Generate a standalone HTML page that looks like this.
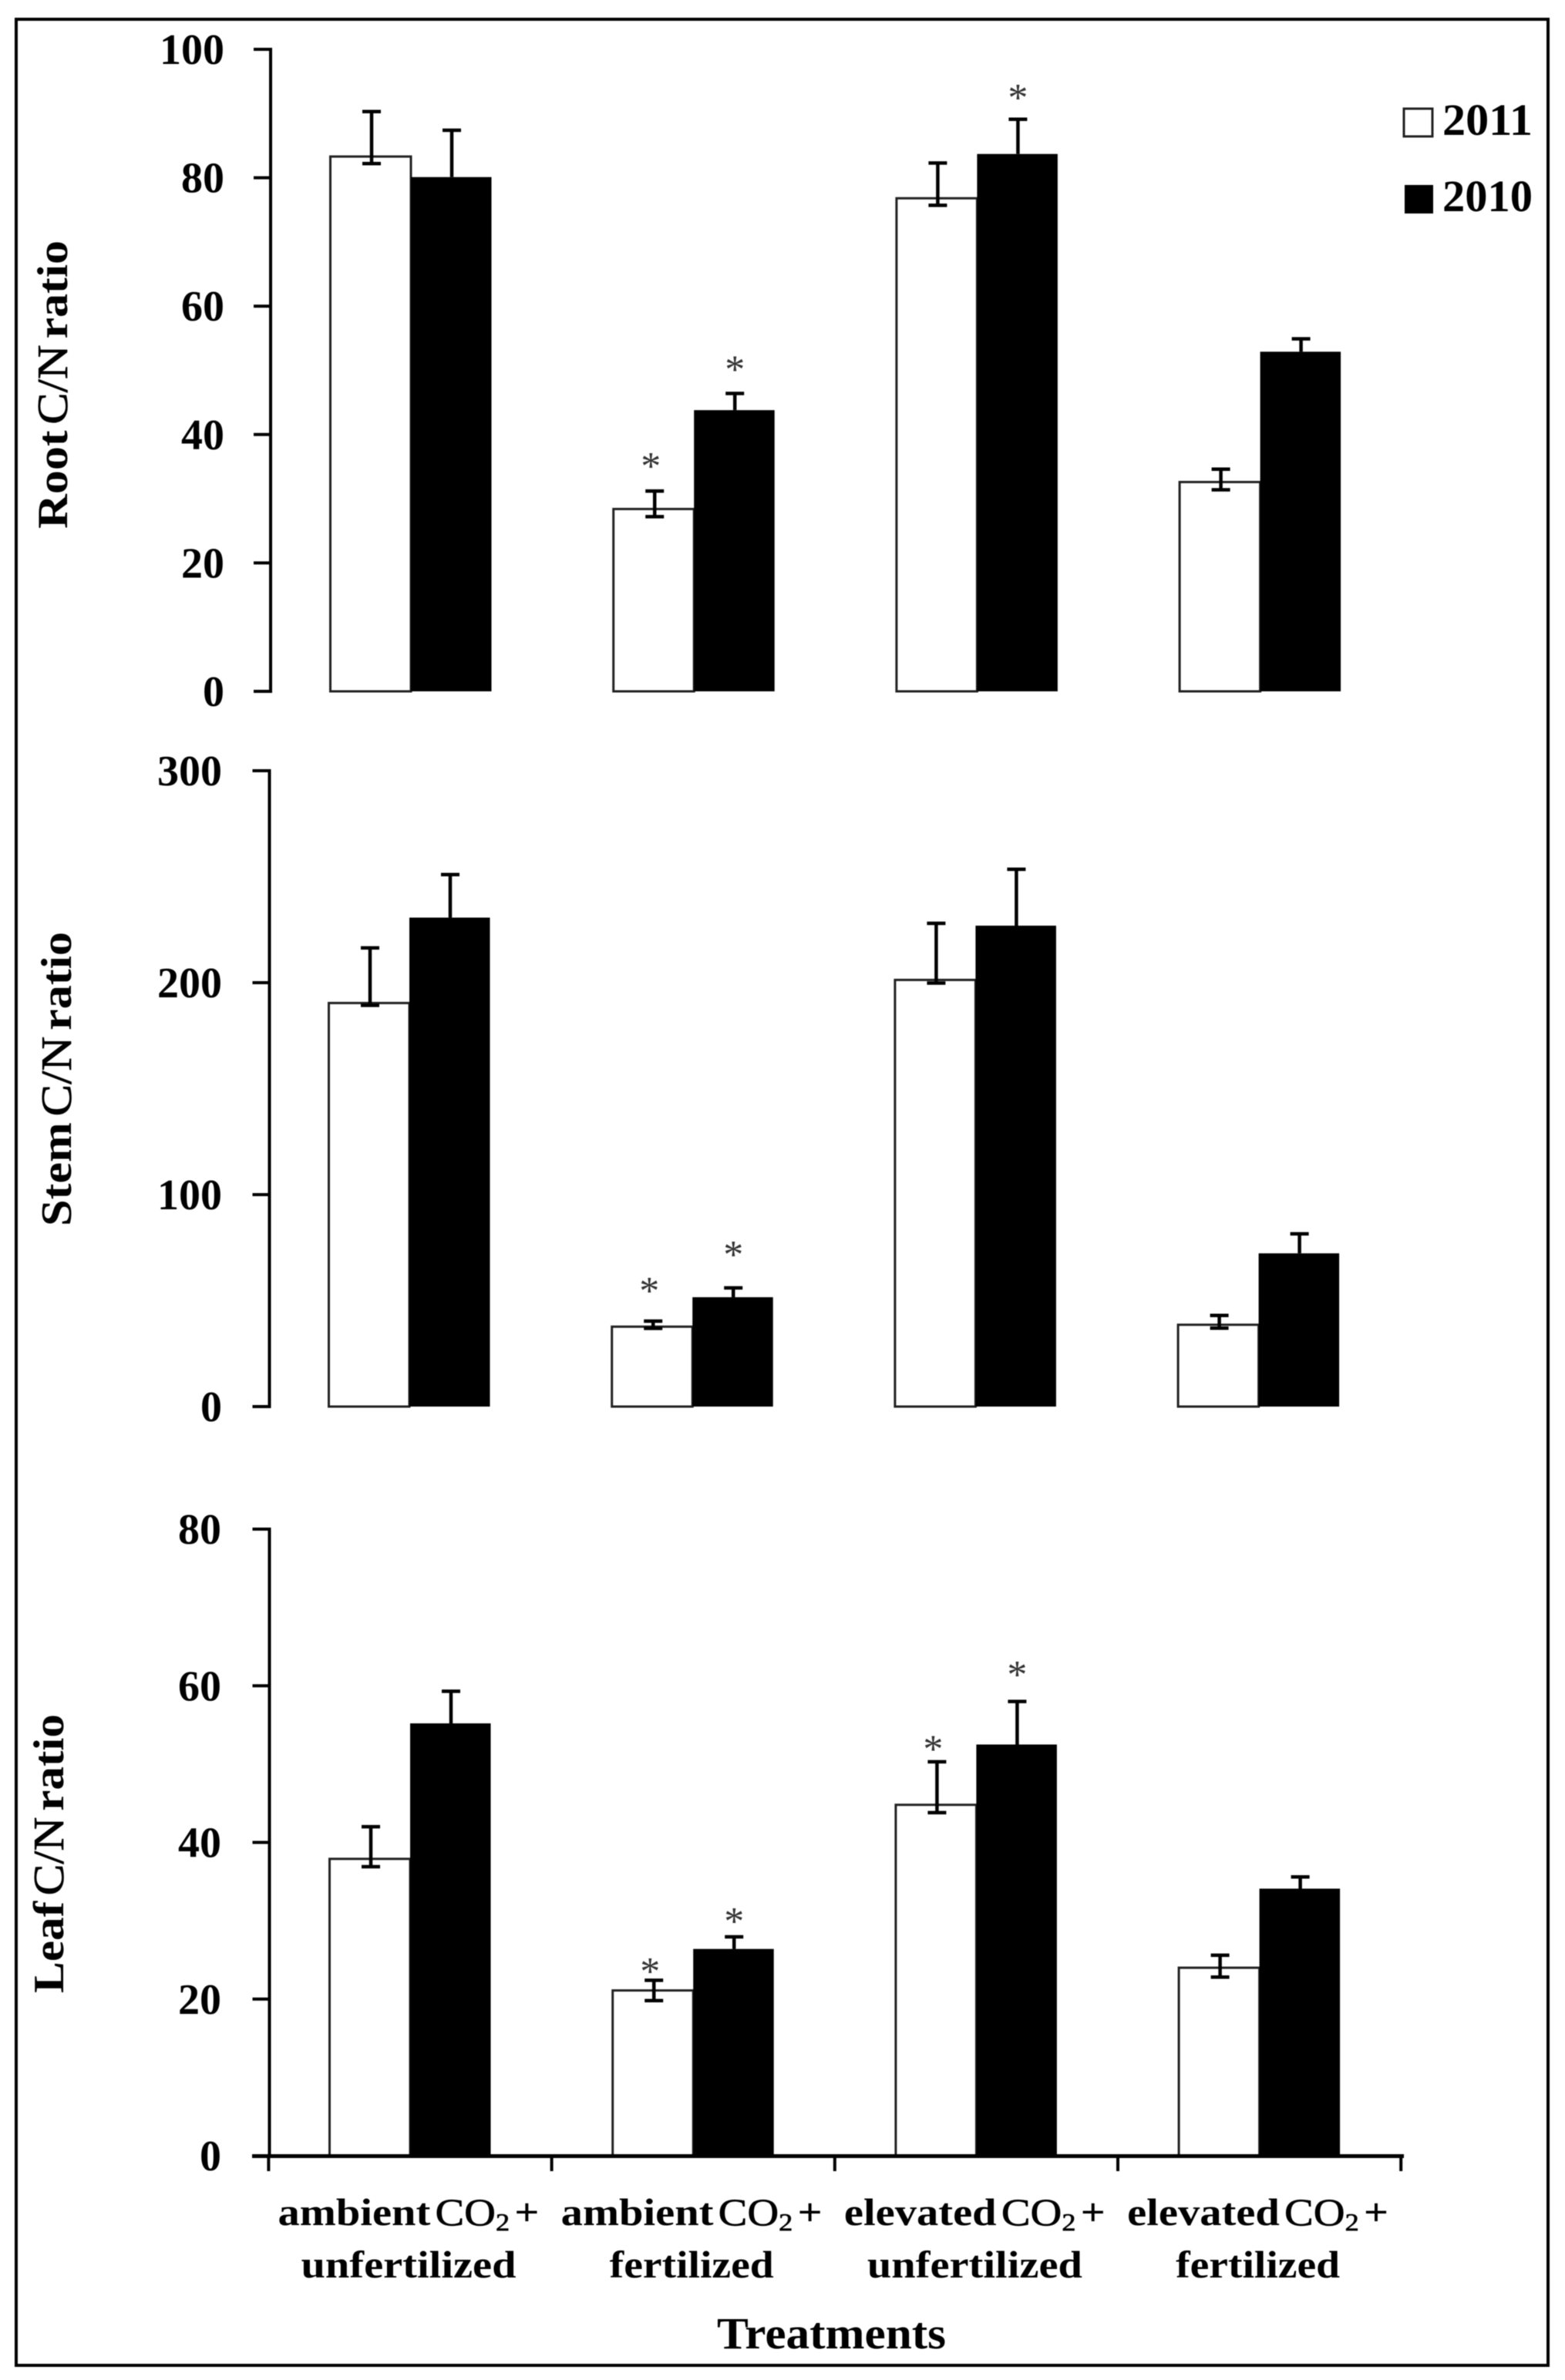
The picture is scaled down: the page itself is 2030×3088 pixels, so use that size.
<!DOCTYPE html>
<html lang="en">
<head>
<meta charset="utf-8">
<title>Root, stem and leaf C/N ratio by treatment</title>
<style>
  html, body { margin: 0; padding: 0; background: #fff; }
  body { width: 2030px; height: 3088px; overflow: hidden; }
  svg { display: block; filter: blur(0.5px); }
  text { font-family: "Liberation Serif", serif; fill: #000; }
  .bold { font-weight: bold; }
  .medium { font-weight: normal; stroke: #000; stroke-width: 0.7px; }
  .tight { word-spacing: -7px; }
</style>
</head>
<body>
<svg id="chart" xmlns="http://www.w3.org/2000/svg" width="2030" height="3088" viewBox="0 0 2030 3088">
  <rect x="0" y="0" width="2030" height="3088" fill="#ffffff"/>
  <rect x="21" y="25" width="1987" height="3044" fill="none" stroke="#000" stroke-width="4"/>

  <g id="panels"></g>
  <g id="x-axis"></g>

  <g>
    <g>
      <rect x="1821" y="141" width="37" height="36" fill="#fff" stroke="#222" stroke-width="3"/>
      <text class="bold" x="1871" y="175" font-size="58" textLength="117" lengthAdjust="spacingAndGlyphs">2011</text>
    </g>
    <g>
      <rect x="1822" y="240" width="37" height="37" fill="#000"/>
      <text class="bold" x="1871" y="274" font-size="58" textLength="117" lengthAdjust="spacingAndGlyphs">2010</text>
    </g>
  </g>

  <text class="bold tight" font-size="56" transform="translate(87 686) rotate(-90)" textLength="374" lengthAdjust="spacingAndGlyphs">Root <tspan class="medium">C/N</tspan> ratio</text>
  <text class="bold tight" font-size="56" transform="translate(92 1591) rotate(-90)" textLength="382" lengthAdjust="spacingAndGlyphs">Stem <tspan class="medium">C/N</tspan> ratio</text>
  <text class="bold tight" font-size="56" transform="translate(82 2586) rotate(-90)" textLength="362" lengthAdjust="spacingAndGlyphs">Leaf <tspan class="medium">C/N</tspan> ratio</text>
  <text class="bold" x="930" y="3047" font-size="58" textLength="297" lengthAdjust="spacingAndGlyphs">Treatments</text>
</svg>

<script>
// ---------- categories ----------
const treatmentGas = ["ambient", "ambient", "elevated", "elevated"];
const treatmentFert = ["unfertilized", "fertilized", "unfertilized", "fertilized"];

// ---------- tick labels ----------
const rootTicks = [0, 20, 40, 60, 80, 100];
const stemTicks = [0, 100, 200, 300];
const leafTicks = [0, 20, 40, 60, 80];

// ---------- root series ----------
const root2011 = [83.3, 28.4, 76.8, 32.6];
const root2011Upper = [90.3, 31.2, 82.3, 34.6];
const root2011Lower = [82.2, 27.2, 75.7, 31.4];
const root2010 = [80.1, 43.8, 83.7, 52.9];
const root2010Upper = [87.4, 46.4, 89.1, 54.9];
const rootStar2011 = [null, 4.8, null, null];
const rootStar2010 = [null, 4.7, 4.3, null];

// ---------- stem series ----------
const stem2011 = [190.4, 37.7, 201.3, 38.6];
const stem2011Upper = [216.4, 40.3, 228, 43];
const stem2011Lower = [189.3, 36.9, 199.8, 37];
const stem2010 = [230.7, 51.6, 226.9, 72.3];
const stem2010Upper = [251, 56, 253.5, 81.5];
const stemStar2011 = [null, 17.1, null, null];
const stemStar2010 = [null, 18.5, null, null];

// ---------- leaf series ----------
const leaf2011 = [37.9, 21.1, 44.8, 24];
const leaf2011Upper = [42, 22.4, 50.3, 25.6];
const leaf2011Lower = [36.9, 19.8, 43.8, 22.8];
const leaf2010 = [55.2, 26.4, 52.5, 34.1];
const leaf2010Upper = [59.3, 27.95, 58, 35.6];
const leafStar2011 = [null, 1.9, 2.4, null];
const leafStar2010 = [null, 2.75, 4.2, null];

const NS = "http://www.w3.org/2000/svg";
const panelsRoot = document.getElementById("panels");
const xAxisRoot = document.getElementById("x-axis");

function make(tag, parent, props) {
  const el = document.createElementNS(NS, tag);
  for (const k in props) el.setAttribute(k, props[k]);
  parent.appendChild(el);
  return el;
}

// Band scale: centre of each treatment group on the x axis
function groupCentre(g) { return 532 + 367.2 * g; }
const BAR_W = 104.5;
const CAP = 12;

function drawPanel(p) {
  const maxV = p.ticks[p.ticks.length - 1];
  const y = v => p.y0 - (v / maxV) * (p.y0 - p.yTop);

  const g = make("g", panelsRoot, {});
  
  

  const axis = make("line", g, { x1: p.axisX, x2: p.axisX, y1: y(maxV) - 2, y2: p.y0 + 2, stroke: "#000", "stroke-width": 4 });
  
  

  p.ticks.forEach(t => {
    const tick = make("line", g, { x1: p.axisX - 22, x2: p.axisX, y1: y(t), y2: y(t), stroke: "#000", "stroke-width": 4 });
    
    
    const label = make("text", g, { x: p.labelX, y: y(t) + 19, "font-size": 56, "font-weight": "bold", "text-anchor": "end" });
    
    
    label.textContent = String(t);
  });

  p.v2011.forEach((v, i) => {
    const c = groupCentre(i) + p.shift;

    // 2011 (white) bar with two-sided error bar
    const white = make("rect", g, { x: c - BAR_W, y: y(v), width: BAR_W, height: p.y0 - y(v), fill: "#fff", stroke: "#222", "stroke-width": 3 });
    
    

    const wx = c - 51;
    const werr = make("path", g, {
      d: "M" + wx + " " + y(p.up2011[i]) + "V" + y(p.low2011[i]) +
         "M" + (wx - CAP) + " " + y(p.up2011[i]) + "H" + (wx + CAP) +
         "M" + (wx - CAP) + " " + y(p.low2011[i]) + "H" + (wx + CAP),
      fill: "none", stroke: "#000", "stroke-width": 4.5
    });
    
    

    // 2010 (black) bar with upper error bar
    const bv = p.v2010[i];
    const black = make("rect", g, { x: c, y: y(bv), width: BAR_W, height: p.y0 - y(bv), fill: "#000" });
    
    

    const bx = c + 53;
    const berr = make("path", g, {
      d: "M" + bx + " " + y(p.up2010[i]) + "V" + y(bv) +
         "M" + (bx - CAP) + " " + y(p.up2010[i]) + "H" + (bx + CAP),
      fill: "none", stroke: "#000", "stroke-width": 4.5
    });
    
    

    // significance asterisks, placed a data-unit gap above the upper cap
    if (p.star2011[i] !== null) {
      const s = make("text", g, { x: c - 56, y: y(p.up2011[i] + p.star2011[i]) + 25, "font-size": 52, "text-anchor": "middle", style: "fill:#333" });
      
      
      s.textContent = "*";
    }
    if (p.star2010[i] !== null) {
      const s2 = make("text", g, { x: c + 53, y: y(p.up2010[i] + p.star2010[i]) + 25, "font-size": 52, "text-anchor": "middle", style: "fill:#333" });
      
      
      s2.textContent = "*";
    }
  });
}

drawPanel({ name: "root", axisX: 351, labelX: 291, shift: 1, y0: 897, yTop: 64, ticks: rootTicks,
  v2011: root2011, up2011: root2011Upper, low2011: root2011Lower,
  v2010: root2010, up2010: root2010Upper, star2011: rootStar2011, star2010: rootStar2010 });

drawPanel({ name: "stem", axisX: 349.5, labelX: 288, shift: -1, y0: 1825, yTop: 1000, ticks: stemTicks,
  v2011: stem2011, up2011: stem2011Upper, low2011: stem2011Lower,
  v2010: stem2010, up2010: stem2010Upper, star2011: stemStar2011, star2010: stemStar2010 });

drawPanel({ name: "leaf", axisX: 349.5, labelX: 287, shift: 0, y0: 2797, yTop: 1984, ticks: leafTicks,
  v2011: leaf2011, up2011: leaf2011Upper, low2011: leaf2011Lower,
  v2010: leaf2010, up2010: leaf2010Upper, star2011: leafStar2011, star2010: leafStar2010 });

// ---------- shared x axis under the leaf panel ----------
const baseline = make("line", xAxisRoot, { x1: 327, x2: 1821, y1: 2797.5, y2: 2797.5, stroke: "#000", "stroke-width": 5 });



for (let i = 0; i <= treatmentGas.length; i++) {
  const tx = groupCentre(i) - 183.6;
  const tick = make("line", xAxisRoot, { x1: tx, x2: tx, y1: 2797, y2: 2817, stroke: "#000", "stroke-width": 4 });
  
  
}

treatmentGas.forEach((gas, i) => {
  const cx = groupCentre(i) - 2;
  const l1 = make("text", xAxisRoot, { x: cx, y: 2887, "font-size": 50, "font-weight": "bold", "text-anchor": "middle", class: "tight", textLength: 339, lengthAdjust: "spacingAndGlyphs" });
  
  
  l1.appendChild(document.createTextNode(gas + " "));
  const co = make("tspan", l1, { class: "medium" });
  co.textContent = "CO";
  const sub = make("tspan", l1, { class: "medium", "font-size": 32, dy: 7 });
  sub.textContent = "2";
  const plus = make("tspan", l1, { dy: -7 });
  plus.textContent = " +";

  const fert = treatmentFert[i];
  const l2 = make("text", xAxisRoot, { x: cx, y: 2955, "font-size": 50, "font-weight": "bold", "text-anchor": "middle", textLength: fert.length > 10 ? 279 : 213, lengthAdjust: "spacingAndGlyphs" });
  
  
  l2.textContent = fert;
});
</script>
</body>
</html>
